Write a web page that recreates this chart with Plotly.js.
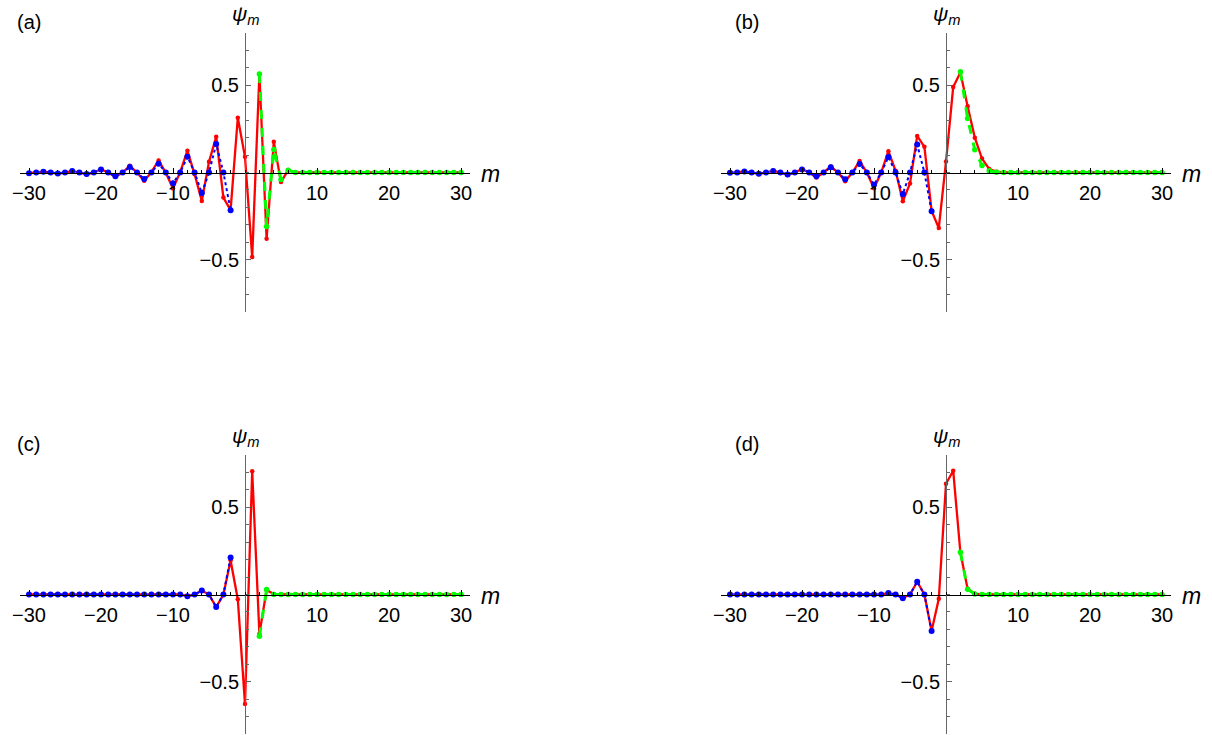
<!DOCTYPE html>
<html>
<head>
<meta charset="utf-8">
<script src="https://cdn.plot.ly/plotly-3.0.1.min.js"></script>
<style>
  html, body { margin: 0; padding: 0; background: #fff; }
  #chart { width: 1212px; height: 735px; }
</style>
</head>
<body>
<div id="chart"></div>
<script>
// ---------- data ----------
const mAll = [-30,-29,-28,-27,-26,-25,-24,-23,-22,-21,-20,-19,-18,-17,-16,-15,-14,-13,-12,-11,-10,-9,-8,-7,-6,-5,-4,-3,-2,-1,0,1,2,3,4,5,6,7,8,9,10,11,12,13,14,15,16,17,18,19,20,21,22,23,24,25,26,27,28,29,30];
const mNeg = [-30,-29,-28,-27,-26,-25,-24,-23,-22,-21,-20,-19,-18,-17,-16,-15,-14,-13,-12,-11,-10,-9,-8,-7,-6,-5,-4,-3,-2];
const mPos = [2,3,4,5,6,7,8,9,10,11,12,13,14,15,16,17,18,19,20,21,22,23,24,25,26,27,28,29,30];

// panel (a)
const redA = [-0.004,0,0.005,0,-0.006,0,0.009,0,-0.011,0,0.019,0,-0.025,0,0.038,0,-0.048,0.002,0.069,-0.002,-0.092,0.002,0.125,-0.01,-0.163,0.061,0.205,-0.144,-0.216,0.314,0.09,-0.485,0.565,-0.38,0.176,-0.055,0.015,0,0,0,0,0,0,0,0,0,0,0,0,0,0,0,0,0,0,0,0,0,0,0,0];
const blueA = [-0.004,0,0.005,0,-0.006,0,0.008,0,-0.009,0,0.017,0,-0.021,0,0.032,0,-0.037,0,0.05,0,-0.061,0,0.09,0,-0.118,0,0.163,0,-0.216];
const greenA = [0.565,-0.31,0.132,-0.04,0.013,0,0,0,0,0,0,0,0,0,0,0,0,0,0,0,0,0,0,0,0,0,0,0,0];

// panel (b)
const redB = [-0.002,0,0.006,0,-0.008,0,0.01,0,-0.015,0,0.02,0,-0.029,0,0.035,0,-0.05,0,0.066,0,-0.09,0,0.122,0.01,-0.165,-0.063,0.21,0.147,-0.22,-0.318,0.063,0.49,0.573,0.38,0.2,0.08,0.02,0.005,0,0,0,0,0,0,0,0,0,0,0,0,0,0,0,0,0,0,0,0,0,0,0];
const blueB = [-0.002,0,0.006,0,-0.007,0,0.009,0,-0.011,0,0.017,0,-0.022,0,0.03,0,-0.039,0,0.049,0,-0.07,0,0.089,0,-0.125,0,0.16,0,-0.222];
const greenB = [0.578,0.31,0.13,0.04,0.01,0.002,0,0,0,0,0,0,0,0,0,0,0,0,0,0,0,0,0,0,0,0,0,0,0];

// panel (c)
const redC = [0,0,0,0,0,0,0,0,0,0,0,0,0,0,0,0,0,0,0,0,0,0,-0.01,0,0.023,0,-0.072,0,0.195,-0.027,-0.628,0.707,-0.226,0.025,0.003,0,0,0,0,0,0,0,0,0,0,0,0,0,0,0,0,0,0,0,0,0,0,0,0,0,0];
const blueC = [0,0,0,0,0,0,0,0,0,0,0,0,0,0,0,0,0,0,0,0,0,0,-0.01,0,0.023,0,-0.072,0,0.212];
const greenC = [-0.24,0.029,0,0,0,0,0,0,0,0,0,0,0,0,0,0,0,0,0,0,0,0,0,0,0,0,0,0,0];

// panel (d)
const redD = [0,0,0,0,0,0,0,0,0,0,0,0,0,0,0,0,0,0,0,0,0,0,0.008,0,-0.021,0,0.073,0,-0.21,-0.025,0.635,0.71,0.24,0.033,0.004,0,0,0,0,0,0,0,0,0,0,0,0,0,0,0,0,0,0,0,0,0,0,0,0,0,0];
const blueD = [0,0,0,0,0,0,0,0,0,0,0,0,0,0,0,0,0,0,0,0,0,0,0.008,0,-0.021,0,0.073,0,-0.21];
const greenD = [0.243,0.03,0.003,0,0,0,0,0,0,0,0,0,0,0,0,0,0,0,0,0,0,0,0,0,0,0,0,0,0];

const xTickVals = [-30,-20,-10,10,20,30];
const xTickText = ['\u221230','\u221220','\u221210','10','20','30'];
const yTickVals = [-0.5,0.5];
const yTickText = ['\u22120.5','0.5'];
const panelLabels = ['(a)','(b)','(c)','(d)'];
const yTitle = '<i>\u03c8</i><sub><i>m</i></sub>';
const xTitle = '<i>m</i>';

// ---------- layout geometry (pixels) ----------
const W = 1212, H = 735;
const px = v => v / W;
const py = v => 1 - v / H;
const panels = [
  {xs:[20,470],  x0:245, ys:[33,312],  zero:172.5, lab:15,  red:redA, blue:blueA, green:greenA},
  {xs:[721,1171],x0:946, ys:[33,312],  zero:172.5, lab:733, red:redB, blue:blueB, green:greenB},
  {xs:[20,470],  x0:245, ys:[455,734], zero:594.5, lab:15,  red:redC, blue:blueC, green:greenC},
  {xs:[721,1171],x0:946, ys:[455,734], zero:594.5, lab:733, red:redD, blue:blueD, green:greenD}
];

const font = 'Liberation Sans, Arial, Helvetica, sans-serif';
const traces = [];
const layout = {
  width: W, height: H,
  margin: {l:0, r:0, t:0, b:0},
  paper_bgcolor: '#fff', plot_bgcolor: 'rgba(0,0,0,0)',
  showlegend: false,
  font: {family: font, size: 20, color: '#000'},
  annotations: []
};

panels.forEach((p, i) => {
  const n = i + 1;
  const xa = 'x' + (n === 1 ? '' : n), ya = 'y' + (n === 1 ? '' : n);
  const xk = 'xaxis' + (n === 1 ? '' : n), yk = 'yaxis' + (n === 1 ? '' : n);
  traces.push({x: mAll, y: p.red, xaxis: xa, yaxis: ya, type: 'scatter', mode: 'lines+markers',
    line: {color: '#ff0000', width: 2.3}, marker: {color: '#ff0000', size: 4.5}, cliponaxis: false});
  traces.push({x: mNeg, y: p.blue, xaxis: xa, yaxis: ya, type: 'scatter', mode: 'lines+markers',
    line: {color: '#0000ff', width: 2, dash: 'dot'}, marker: {color: '#0000ff', size: 6}, cliponaxis: false});
  traces.push({x: mPos, y: p.green, xaxis: xa, yaxis: ya, type: 'scatter', mode: 'lines+markers',
    line: {color: '#00ff00', width: 3, dash: 'dash'}, marker: {color: '#00ff00', size: 5.5}, cliponaxis: false});

  layout[xk] = {
    domain: [px(p.xs[0]), px(p.xs[1])], range: [-31.25, 31.25],
    anchor: 'free', position: py(p.zero), side: 'bottom',
    showgrid: false, zeroline: false, showline: true, linecolor: '#000', linewidth: 1.2,
    tickmode: 'array', tickvals: xTickVals, ticktext: xTickText,
    ticks: 'inside', ticklen: 5, tickwidth: 1, tickcolor: '#000',
    minor: {tickmode: 'linear', tick0: 0, dtick: 2, ticks: 'inside', ticklen: 3, tickwidth: 1, tickcolor: '#000', showgrid: false},
    tickfont: {family: font, size: 20, color: '#000'}, ticklabelstandoff: 2, fixedrange: true
  };
  layout[yk] = {
    domain: [py(p.ys[1]), py(p.ys[0])], range: [-0.8, 0.8],
    anchor: 'free', position: px(p.x0), side: 'left',
    showgrid: false, zeroline: false, showline: true, linecolor: '#666', linewidth: 1.2,
    tickmode: 'array', tickvals: yTickVals, ticktext: yTickText,
    ticks: 'inside', ticklen: 5, tickwidth: 1, tickcolor: '#666',
    minor: {tickmode: 'linear', tick0: 0, dtick: 0.1, ticks: 'inside', ticklen: 3, tickwidth: 1, tickcolor: '#666', showgrid: false},
    tickfont: {family: font, size: 20, color: '#000'}, ticklabelstandoff: 2, fixedrange: true
  };

  const dy = p.zero - 172.5;
  layout.annotations.push({xref: 'paper', yref: 'paper', x: px(p.lab), y: py(22 + dy),
    xanchor: 'left', yanchor: 'middle', text: panelLabels[i], showarrow: false,
    font: {family: font, size: 20, color: '#000'}});
  layout.annotations.push({xref: 'paper', yref: 'paper', x: px(p.x0 + 1), y: py(15 + dy),
    xanchor: 'center', yanchor: 'middle', text: yTitle, showarrow: false,
    font: {family: font, size: 21, color: '#000'}});
  layout.annotations.push({xref: 'paper', yref: 'paper', x: px(p.x0 + 245), y: py(p.zero + 1),
    xanchor: 'center', yanchor: 'middle', text: xTitle, showarrow: false,
    font: {family: font, size: 23, color: '#000'}});
});

Plotly.newPlot('chart', traces, layout, {staticPlot: true, displayModeBar: false});
</script>
</body>
</html>
